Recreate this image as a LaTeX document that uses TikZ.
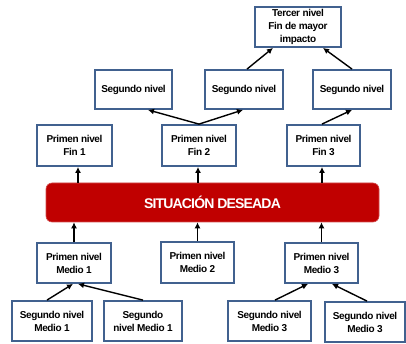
\documentclass[tikz,border=0pt]{standalone}
\usepackage{fontspec}
\setmainfont{Liberation Sans}
\newfontfamily\condfont[LetterSpace=-3.5]{Liberation Sans}
\newfontfamily\barfont[LetterSpace=-6]{Liberation Sans}
\usetikzlibrary{arrows.meta}
\definecolor{boxblue}{HTML}{41618F}
\definecolor{barred}{HTML}{C00000}
\tikzset{
  box/.style={draw=boxblue, line width=1.8pt, fill=white, align=center,
    font=\condfont\fontsize{10}{13}\selectfont\bfseries, inner sep=1pt,
    minimum height=39pt},
  arr/.style={-{Latex[length=6pt,width=6pt]}, line width=1.4pt, black},
}
\begin{document}
\begin{tikzpicture}[x=1pt,y=-1pt]
\useasboundingbox (0,0) rectangle (406,344);
% top
\node[box, minimum width=86pt, minimum height=40pt] (T3) at (298,27) {Tercer nivel\\Fin de mayor\\impacto};
\node[box, minimum width=77pt] (S1) at (133.5,89.5) {Segundo nivel};
\node[box, minimum width=78pt] (S2) at (244,89.5) {Segundo nivel};
\node[box, minimum width=78pt] (S3) at (352,89.5) {Segundo nivel};
\node[box, minimum width=75pt, minimum height=41pt] (F1) at (74.5,145.5) {Primen nivel\\Fin 1};
\node[box, minimum width=74pt, minimum height=41pt] (F2) at (199,145.5) {Primen nivel\\Fin 2};
\node[box, minimum width=73pt, minimum height=41pt] (F3) at (323.5,145.5) {Primen nivel\\Fin 3};
% bar
\node[fill=barred, draw=barred!70!white, line width=0.6pt, rounded corners=6pt,
  minimum width=333pt, minimum height=39pt, text=white,
  font=\barfont\fontsize{14}{16}\selectfont\bfseries] (bar) at (212.5,202.5) {SITUACIÓN DESEADA};
% bottom
\node[box, minimum width=74pt, minimum height=40pt] (M1) at (74,263) {Primen nivel\\Medio 1};
\node[box, minimum width=73pt, minimum height=41pt] (M2) at (197.5,262.5) {Primen nivel\\Medio 2};
\node[box, minimum width=73pt, minimum height=40pt] (M3) at (321.5,263) {Primen nivel\\Medio 3};
\node[box, minimum width=80pt, minimum height=40pt] (B1) at (52,321) {Segundo nivel\\Medio 1};
\node[box, minimum width=78pt, minimum height=40pt] (B2) at (143,321) {Segundo\\nivel Medio 1};
\node[box, minimum width=83pt, minimum height=40pt] (B3) at (269.5,321) {Segundo nivel\\Medio 3};
\node[box, minimum width=80pt, minimum height=40pt] (B4) at (365,322) {Segundo nivel\\Medio 3};
% arrows bottom
\draw[arr] ([xshift=-5pt]B1.north) -- ([xshift=-1pt]M1.south);
\draw[arr] (B2.north) -- ([xshift=4pt]M1.south);
\draw[arr] ([xshift=5.5pt]B3.north) -- ([xshift=-13.5pt]M3.south);
\draw[arr] ([xshift=2pt]B4.north) -- ([xshift=10.5pt]M3.south);
% medio to bar
\draw[arr] (M1.north) -- (M1.north |- bar.south);
\draw[arr] (M2.north) -- (M2.north |- bar.south);
\draw[arr] (M3.north) -- (M3.north |- bar.south);
% bar to fin
\draw[arr] (bar.north -| 78,0) -- (F1.south -| 78,0);
\draw[arr] (bar.north -| 198,0) -- (F2.south -| 198,0);
\draw[arr] (bar.north -| 322,0) -- (F3.south -| 322,0);
% fin to segundo
\draw[arr] (F2.north) -- ([xshift=14.5pt]S1.south);
\draw[arr] (F2.north) -- ([xshift=-1pt]S2.south);
\draw[arr] ([xshift=-1.5pt]F3.north) -- (S3.south);
% segundo to tercer
\draw[arr] ([xshift=3pt]S2.north) -- ([xshift=-25pt]T3.south);
\draw[arr] (S3.north) -- ([xshift=25pt]T3.south);
\end{tikzpicture}
\end{document}
